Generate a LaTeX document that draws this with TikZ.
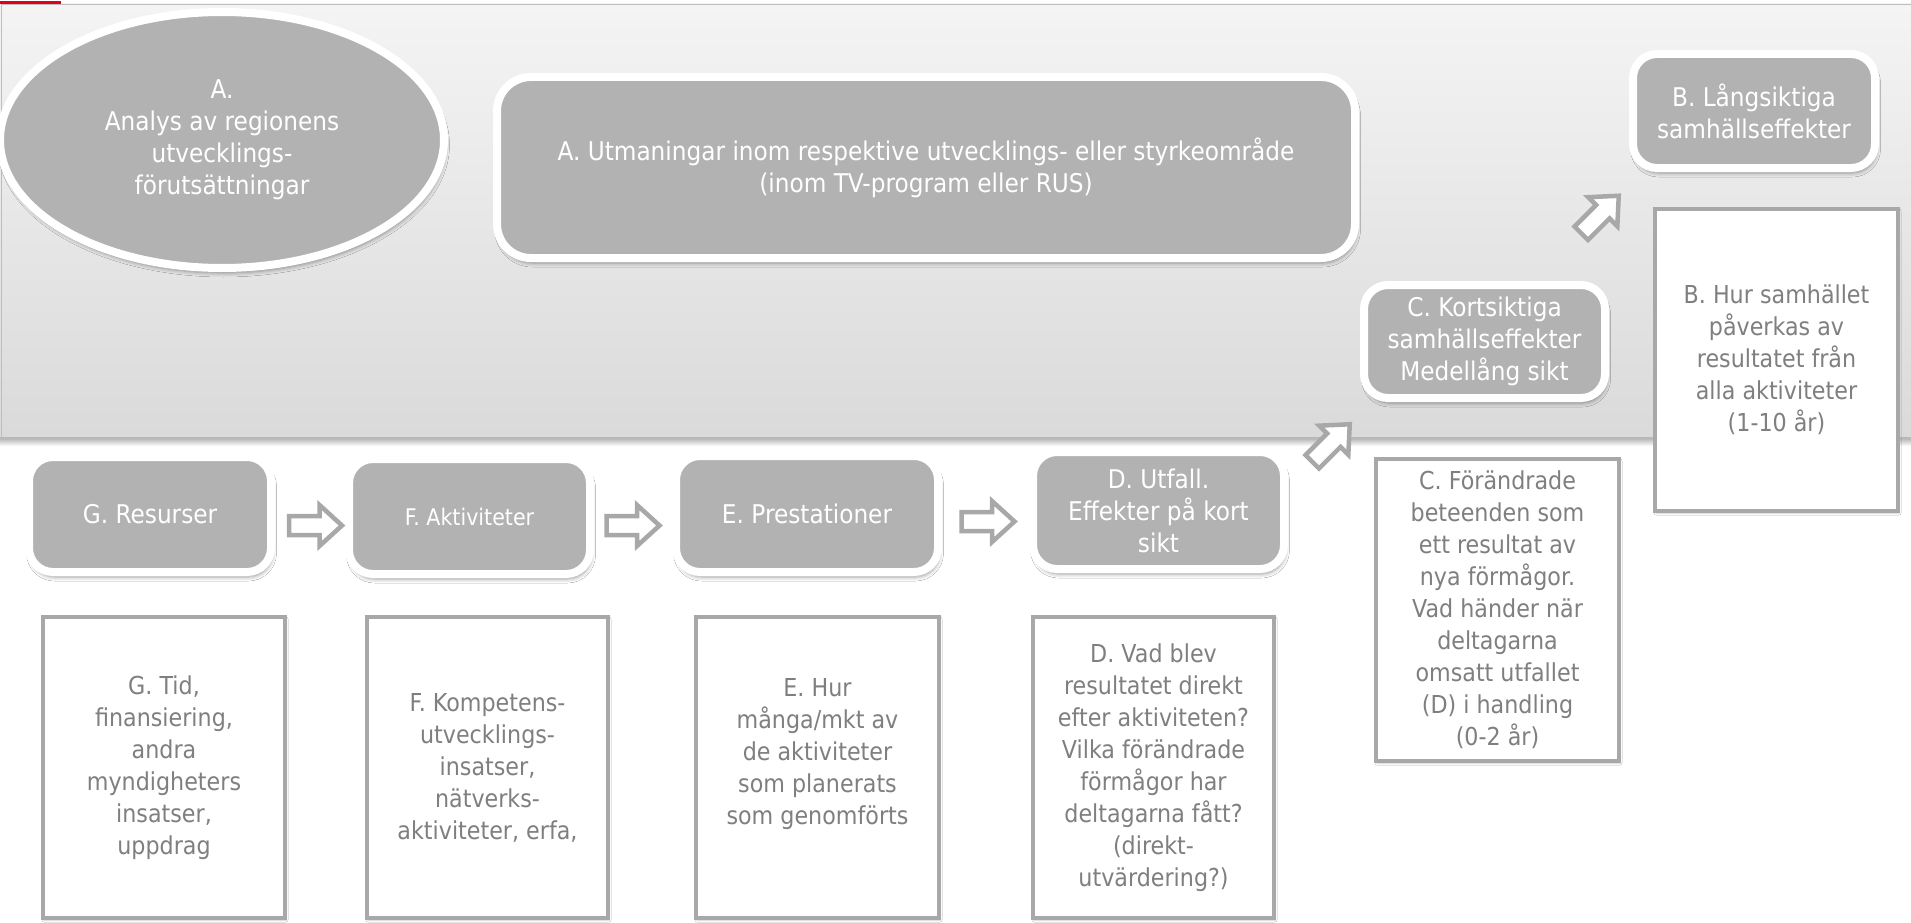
\documentclass[tikz,border=0pt]{standalone}
\usepackage{fontspec}
\setmainfont{DejaVu Sans}[FakeStretch=0.9]
\usetikzlibrary{shapes.geometric,shadows.blur}

\definecolor{boxgray}{HTML}{B2B2B2}
\definecolor{edgegray}{HTML}{A8A8A8}
\definecolor{txtgray}{HTML}{7F7F7F}
\definecolor{panTop}{HTML}{F4F4F4}
\definecolor{panBot}{HTML}{DADADA}
\definecolor{panEdge}{HTML}{BDBDBD}
\definecolor{markred}{HTML}{E2001A}

\newcommand\labfont{\fontsize{25.8}{32}\selectfont}
\newcommand\smlabfont{\fontsize{22.9}{32}\selectfont}
\newcommand\txtfont{\fontsize{24.7}{32}\selectfont}

\tikzset{
  softshadow/.style={blur shadow={shadow xshift=1.5pt, shadow yshift=-5pt,
      shadow blur radius=4pt, shadow opacity=40}},
  labbox/.style={rectangle, rounded corners=24pt, fill=boxgray, draw=white,
      line width=8pt, text=white, align=center, font=\labfont, inner sep=0pt,
      softshadow},
  txtbox/.style={rectangle, draw=edgegray, line width=4.5pt, fill=white,
      text=txtgray, align=center, font=\txtfont, inner sep=0pt,
      blur shadow={shadow xshift=1pt, shadow yshift=-2pt,
      shadow blur radius=2pt, shadow opacity=20}},
  arrline/.style={draw=edgegray, fill=white, line width=4.5pt, line join=miter},
  blockarr/.pic={
    \path[arrline] (-26.5,-9.5) -- (4,-9.5) -- (4,-20.5) -- (26.5,0)
      -- (4,20.5) -- (4,9.5) -- (-26.5,9.5) -- cycle;
  }
}

\begin{document}
\begin{tikzpicture}[x=1pt,y=-1pt]
\useasboundingbox (0,0) rectangle (1911,923);
\fill[white] (0,0) rectangle (1911,923);

% upper shaded panel
\shade[top color=panTop, bottom color=panBot] (0,4) rectangle (1911,438);
\shade[top color=black!30, bottom color=white] (0,438) rectangle (1911,446);
\draw[panEdge, line width=1.3pt] (1.5,438) -- (1.5,4.3) -- (1911,4.3);
\draw[black!28, line width=2pt] (0,437.5) -- (1911,437.5);
\fill[markred] (0,1.3) rectangle (61,3.6);

% context: analysis and challenges
\node[ellipse, fill=boxgray, draw=white, line width=8pt, text=white,
      align=center, font=\labfont, inner sep=0pt, softshadow,
      minimum width=444pt, minimum height=256pt] (anA) at (222,140)
  {A.\\Analys av regionens\\utvecklings-\\förutsättningar};

\node[labbox, rounded corners=34pt, minimum width=858pt, minimum height=181pt]
  (utA) at (926,167.5)
  {A. Utmaningar inom respektive utvecklings- eller styrkeområde\\(inom TV-program eller RUS)};

% effect chain, right side
\node[labbox, minimum width=242pt, minimum height=114pt] (effB) at (1754,111)
  {B. Långsiktiga\\samhällseffekter};
\node[txtbox, minimum width=243pt, minimum height=302pt] (txtB) at (1776.5,360)
  {B. Hur samhället\\påverkas av\\resultatet från\\alla aktiviteter\\(1-10 år)};

\node[labbox, minimum width=241pt, minimum height=113pt] (effC) at (1484.5,341.5)
  {C. Kortsiktiga\\samhällseffekter\\Medellång sikt};
\node[txtbox, minimum width=243pt, minimum height=302pt] (txtC) at (1497.5,610)
  {C. Förändrade\\beteenden som\\ett resultat av\\nya förmågor.\\Vad händer när\\deltagarna\\omsatt utfallet\\(D) i handling\\(0-2 år)};

% lower row: resources to outcome
\node[labbox, minimum width=242pt, minimum height=115pt] (resG) at (150,514.5)
  {G. Resurser};
\node[labbox, font=\smlabfont, minimum width=241pt, minimum height=115pt] (actF) at (469.5,516.5)
  {F. Aktiviteter};
\node[labbox, minimum width=262pt, minimum height=116pt] (preE) at (807,514)
  {E. Prestationer};
\node[labbox, minimum width=251pt, minimum height=117pt] (utfD) at (1158.5,510.5)
  {D. Utfall.\\Effekter på kort\\sikt};

\node[txtbox, minimum width=242pt, minimum height=301pt] (txtG) at (164,767.5)
  {G. Tid,\\finansiering,\\andra\\myndigheters\\insatser,\\uppdrag};
\node[txtbox, minimum width=241pt, minimum height=301pt] (txtF) at (487.5,767.5)
  {F. Kompetens-\\utvecklings-\\insatser,\\nätverks-\\aktiviteter, erfa,};
\node[txtbox, minimum width=243pt, minimum height=301pt] (txtE) at (817.5,767.5)
  {E. Hur\\många/mkt av\\de aktiviteter\\som planerats\\som genomförts\\~};
\node[txtbox, minimum width=241pt, minimum height=301pt] (txtD) at (1153.5,767.5)
  {D. Vad blev\\resultatet direkt\\efter aktiviteten?\\Vilka förändrade\\förmågor har\\deltagarna fått?\\(direkt-\\utvärdering?)};

% hollow block arrows
\pic (arrGF) at (315.5,525.5) {blockarr};
\pic (arrFE) at (633,525.5) {blockarr};
\pic (arrED) at (988,521.5) {blockarr};
\pic[rotate=45] (arrDC) at (1331,443) {blockarr};
\pic[rotate=45] (arrCB) at (1600,214.5) {blockarr};
\end{tikzpicture}
\end{document}
